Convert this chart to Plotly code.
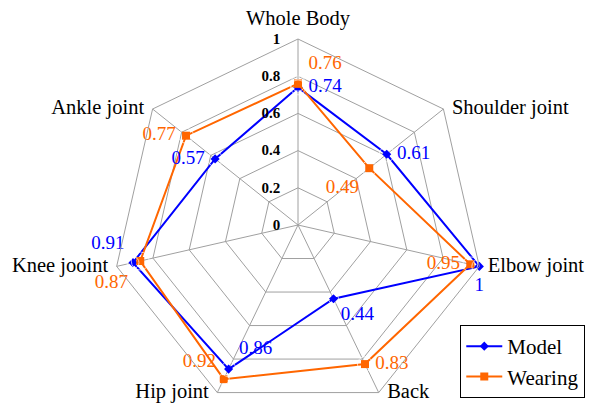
import plotly.graph_objects as go

categories = ["Whole Body", "Shoulder joint", "Elbow joint", "Back", "Hip joint", "Knee jooint", "Ankle joint"]
model = [0.74, 0.61, 1.0, 0.44, 0.86, 0.91, 0.57]
wearing = [0.76, 0.49, 0.95, 0.83, 0.92, 0.87, 0.77]
model_labels = ["0.74", "0.61", "1", "0.44", "0.86", "0.91", "0.57"]
wearing_labels = ["0.76", "0.49", "0.95", "0.83", "0.92", "0.87", "0.77"]
radial_ticks = [0, 0.2, 0.4, 0.6, 0.8, 1]

FONT = "Liberation Serif"
BLUE = "#0000FF"
ORANGE = "#FF6600"
GRID = "#A0A0A0"

# label placement styles
model_pos = ["middle right", "middle right", "bottom center", "bottom right", "top right", "top left", "middle left"]
model_pad = [15, 15, 15, 10, 15, 12, 15]
wearing_pos = ["top right", "bottom left", "middle left", "middle right", "top left", "bottom left", "middle left"]
wearing_pad = [15, 15, 15, 15, 11, 18, 15]
cat_pos = ["top center", "middle right", "middle right", "middle right", "middle left", "middle left", "middle left"]

fig = go.Figure()
fig.add_trace(go.Scatterpolar(
    r=model + [model[0]], theta=categories + [categories[0]],
    mode="lines+markers", name="Model",
    line=dict(color=BLUE, width=2), marker=dict(symbol="diamond", size=7, color=BLUE),
))
fig.add_trace(go.Scatterpolar(
    r=wearing + [wearing[0]], theta=categories + [categories[0]],
    mode="lines+markers", name="Wearing",
    line=dict(color=ORANGE, width=2), marker=dict(symbol="square", size=8, color=ORANGE),
))
fig.add_trace(go.Scatterpolar(
    r=model, theta=categories, mode="markers+text", text=model_labels, textposition=model_pos,
    marker=dict(size=model_pad, color="rgba(0,0,0,0)"),
    textfont=dict(family=FONT, size=19, color=BLUE), showlegend=False, hoverinfo="skip",
))
fig.add_trace(go.Scatterpolar(
    r=wearing, theta=categories, mode="markers+text", text=wearing_labels, textposition=wearing_pos,
    marker=dict(size=wearing_pad, color="rgba(0,0,0,0)"),
    textfont=dict(family=FONT, size=19, color=ORANGE), showlegend=False, hoverinfo="skip",
))
# category labels at the outer ring
fig.add_trace(go.Scatterpolar(
    r=[radial_ticks[-1]] * len(categories), theta=categories, mode="markers+text",
    text=categories, textposition=cat_pos,
    marker=dict(size=12, color="rgba(0,0,0,0)"),
    textfont=dict(family=FONT, size=20.5, color="black"), showlegend=False, hoverinfo="skip",
))

fig.update_layout(
    width=596, height=411,
    margin=dict(l=0, r=0, t=39, b=0),
    paper_bgcolor="white",
    font=dict(family=FONT, size=20, color="black"),
    polar=dict(
        gridshape="linear",
        bgcolor="white",
        domain=dict(x=[0, 1], y=[0, 1]),
        angularaxis=dict(
            direction="clockwise", rotation=90,
            categoryorder="array", categoryarray=categories,
            gridcolor=GRID, linecolor=GRID, gridwidth=1,
            showticklabels=False, ticks="",
        ),
        radialaxis=dict(
            range=[0, 1], tickvals=radial_ticks, angle=90, side="counterclockwise",
            tickfont=dict(family=FONT, size=15, color="black", weight="bold"),
            gridcolor=GRID, showline=False,
            ticks="outside", ticklen=12, tickcolor="rgba(0,0,0,0)",
            tickangle=90,
        ),
    ),
    legend=dict(
        x=0.982, y=0.035, xanchor="right", yanchor="bottom",
        bordercolor="black", borderwidth=1, bgcolor="white",
        itemwidth=36,
        font=dict(family=FONT, size=21, color="black"),
    ),
)

fig.write_html("out.html", config={"displayModeBar": False},
               post_script="document.body.style.margin='0';")
